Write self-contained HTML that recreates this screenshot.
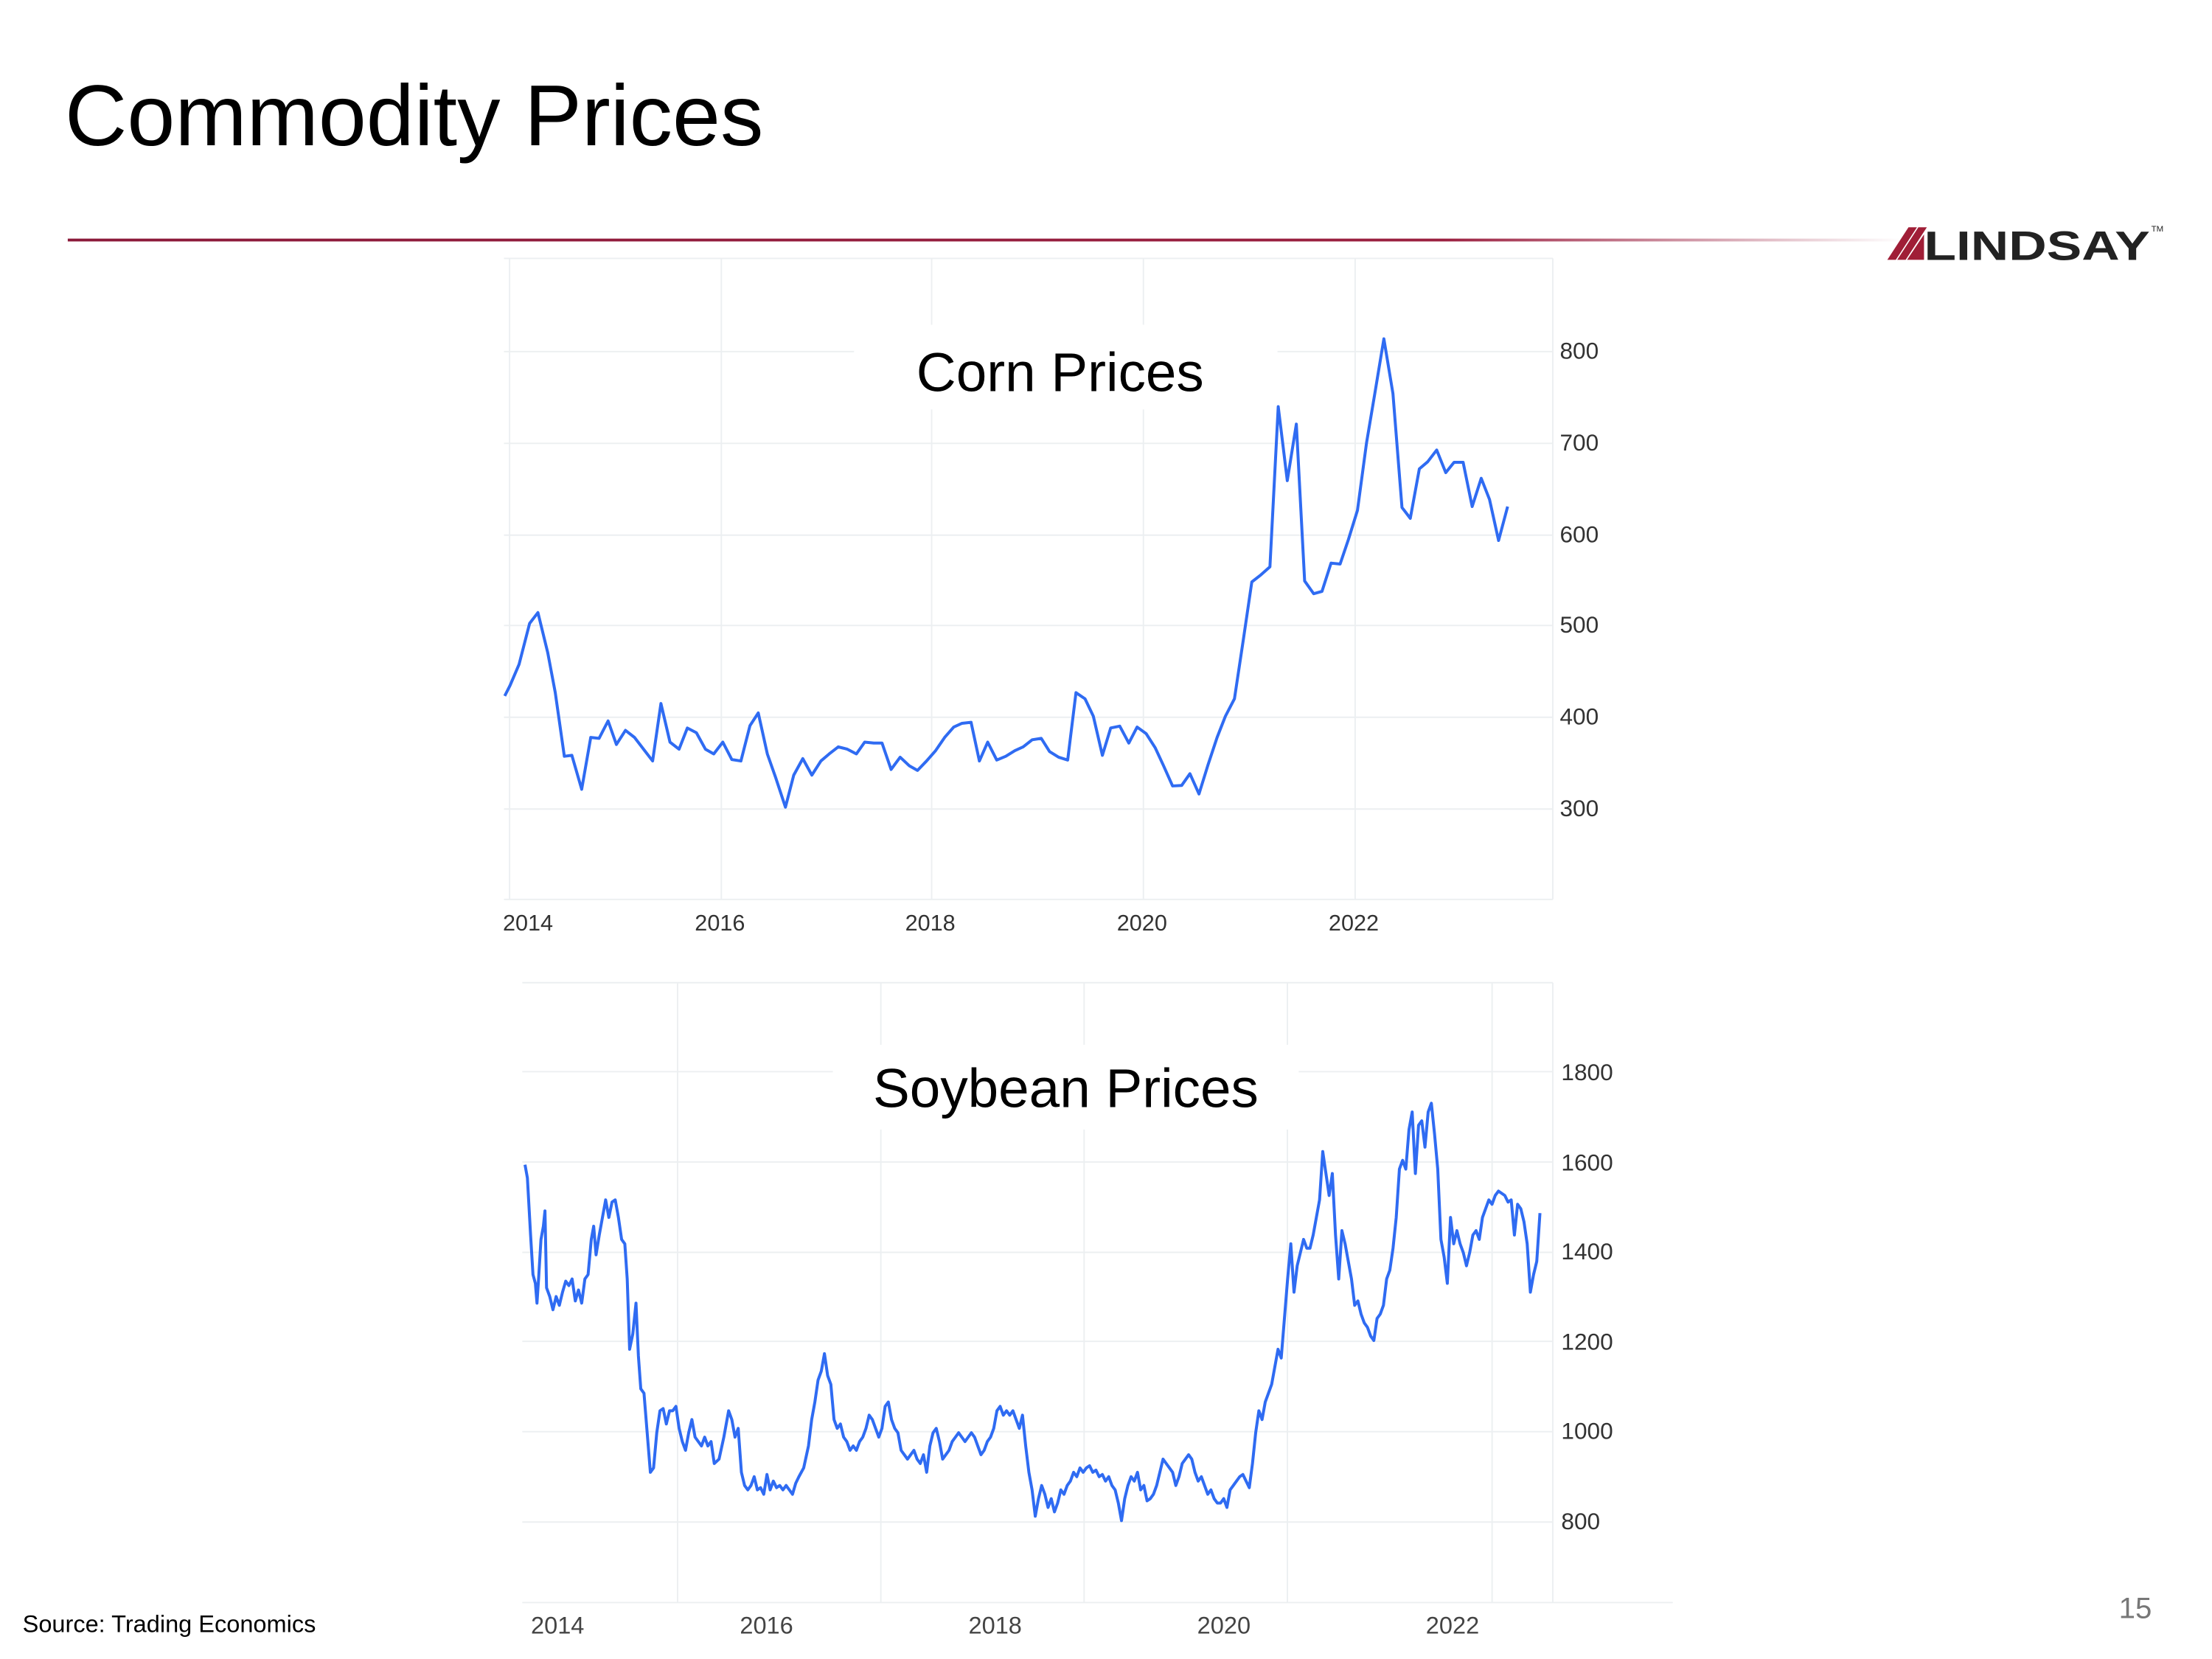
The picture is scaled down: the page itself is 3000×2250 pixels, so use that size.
<!DOCTYPE html>
<html><head><meta charset="utf-8"><style>
html,body{margin:0;padding:0;background:#fff;}
svg{display:block;}
</style></head><body>
<svg width="3000" height="2250" viewBox="0 0 1567 1175" preserveAspectRatio="none" xmlns="http://www.w3.org/2000/svg" font-family="Liberation Sans, Arial, sans-serif">
<defs>
<linearGradient id="rl" x1="0" x2="1" y1="0" y2="0">
<stop offset="0" stop-color="#8b1a3a"/><stop offset="0.75" stop-color="#9b2040"/><stop offset="1" stop-color="#9b2040" stop-opacity="0"/>
</linearGradient>
</defs>
<text x="46" y="103" font-size="61" fill="#000">Commodity Prices</text>
<rect x="48" y="169" width="1300" height="2" fill="url(#rl)"/>
<g>
<polygon points="1337,184 1352,161 1358,161 1343,184" fill="#a01e37"/>
<polygon points="1344,184 1359,161 1365,161 1350,184" fill="#a01e37"/>
<polygon points="1351,184 1363,166 1363,184" fill="#a01e37"/>
<text x="1363" y="184" font-size="29" font-weight="bold" fill="#222" textLength="160" lengthAdjust="spacingAndGlyphs">LINDSAY</text>
<text x="1524" y="164" font-size="6" fill="#222">TM</text>
</g>

<g stroke="#eceff1" stroke-width="1" fill="none">
<line x1="357" y1="183" x2="1100" y2="183"/>
<line x1="357" y1="637" x2="1100" y2="637"/>
<line x1="1100" y1="183" x2="1100" y2="637"/>
<line x1="361" y1="183" x2="361" y2="637"/>
<line x1="511" y1="183" x2="511" y2="637"/>
<line x1="660" y1="183" x2="660" y2="637"/>
<line x1="810" y1="183" x2="810" y2="637"/>
<line x1="960" y1="183" x2="960" y2="637"/>
<line x1="357" y1="249" x2="1100" y2="249"/>
<line x1="357" y1="314" x2="1100" y2="314"/>
<line x1="357" y1="379" x2="1100" y2="379"/>
<line x1="357" y1="443" x2="1100" y2="443"/>
<line x1="357" y1="508" x2="1100" y2="508"/>
<line x1="357" y1="573" x2="1100" y2="573"/>
</g>
<rect x="605" y="230" width="300" height="60" fill="#fff"/>
<g font-size="16.5" fill="#333">
<text x="1105" y="254">800</text><text x="1105" y="319">700</text><text x="1105" y="384">600</text>
<text x="1105" y="448">500</text><text x="1105" y="513">400</text><text x="1105" y="578">300</text>
</g>
<g font-size="16" fill="#333" text-anchor="middle">
<text x="374" y="659">2014</text><text x="510" y="659">2016</text><text x="659" y="659">2018</text><text x="809" y="659">2020</text><text x="959" y="659">2022</text>
</g>
<text x="751" y="277" font-size="39" fill="#000" text-anchor="middle">Corn Prices</text>
<g transform="translate(339.9,171.9) scale(0.5346,0.3337)">
<polyline fill="none" stroke="#2f6bf2" stroke-width="4" vector-effect="non-scaling-stroke" stroke-linejoin="round" points="33,962 40,940 52,895 66,808 77,785 90,870 100,955 112,1090 122,1088 135,1160 147,1050 158,1052 170,1015 181,1065 193,1035 205,1050 217,1075 229,1100 240,978 252,1060 264,1075 275,1030 287,1040 299,1075 310,1085 322,1060 334,1097 346,1100 358,1025 369,998 381,1085 392,1135 405,1198 416,1130 428,1095 440,1130 452,1100 463,1085 475,1070 487,1075 499,1085 510,1060 522,1062 533,1062 545,1118 557,1092 569,1110 580,1120 592,1100 604,1078 616,1050 628,1028 639,1020 651,1018 662,1100 673,1060 685,1098 697,1090 709,1078 720,1070 732,1055 744,1052 755,1080 767,1092 779,1098 790,955 802,968 813,1005 825,1088 836,1030 848,1026 860,1062 871,1028 883,1042 895,1072 906,1110 918,1153 930,1152 941,1127 953,1170 965,1108 977,1050 988,1005 1000,968 1012,840 1023,720 1035,705 1047,688 1058,348 1070,505 1082,385 1093,718 1105,745 1116,740 1128,680 1140,682 1151,630 1163,568 1175,425 1186,320 1198,204 1210,320 1222,562 1233,585 1245,480 1256,465 1268,440 1280,488 1291,466 1303,466 1315,560 1327,500 1338,545 1350,632 1362,560"/>
</g>

<g stroke="#eceff1" stroke-width="1" fill="none">
<line x1="370" y1="696" x2="1100" y2="696"/>
<line x1="370" y1="1135" x2="1185" y2="1135"/>
<line x1="1100" y1="696" x2="1100" y2="1135"/>
<line x1="480" y1="696" x2="480" y2="1135"/>
<line x1="624" y1="696" x2="624" y2="1135"/>
<line x1="768" y1="696" x2="768" y2="1135"/>
<line x1="912" y1="696" x2="912" y2="1135"/>
<line x1="1057" y1="696" x2="1057" y2="1135"/>
<line x1="370" y1="759" x2="1100" y2="759"/>
<line x1="370" y1="823" x2="1100" y2="823"/>
<line x1="370" y1="887" x2="1100" y2="887"/>
<line x1="370" y1="950" x2="1100" y2="950"/>
<line x1="370" y1="1014" x2="1100" y2="1014"/>
<line x1="370" y1="1078" x2="1100" y2="1078"/>
</g>
<rect x="590" y="740" width="330" height="60" fill="#fff"/>
<g font-size="16.5" fill="#333">
<text x="1106" y="765">1800</text><text x="1106" y="829">1600</text><text x="1106" y="892">1400</text>
<text x="1106" y="956">1200</text><text x="1106" y="1019">1000</text><text x="1106" y="1083">800</text>
</g>
<g font-size="17" fill="#444" text-anchor="middle">
<text x="395" y="1157">2014</text><text x="543" y="1157">2016</text><text x="705" y="1157">2018</text><text x="867" y="1157">2020</text><text x="1029" y="1157">2022</text>
</g>
<text x="755" y="784" font-size="39" fill="#000" text-anchor="middle">Soybean Prices</text>
<g transform="translate(340.8,688.0) scale(0.5657,0.3112)">
<polyline fill="none" stroke="#2f6bf2" stroke-width="4" vector-effect="non-scaling-stroke" stroke-linejoin="round" points="55,440 58,470 62,600 65,690 68,710 70,755 72,700 75,610 78,580 80,545 82,720 86,740 90,770 94,740 98,760 102,730 106,705 110,715 114,700 118,750 122,725 126,755 130,700 134,690 138,610 141,580 144,645 148,600 152,560 156,520 160,560 164,525 168,520 172,560 176,610 180,620 183,700 186,860 190,825 194,755 197,875 200,950 204,960 208,1050 212,1140 216,1130 220,1050 224,1000 228,995 232,1030 236,1000 240,1000 244,990 248,1040 252,1070 256,1090 260,1050 264,1020 268,1060 272,1070 276,1080 280,1060 284,1080 288,1070 292,1120 298,1110 304,1060 310,1000 314,1020 318,1060 322,1040 326,1140 330,1170 334,1180 338,1170 342,1150 346,1180 350,1175 354,1190 358,1145 362,1180 366,1160 370,1175 374,1170 378,1180 382,1170 386,1180 390,1190 394,1165 398,1150 404,1130 410,1080 414,1020 418,980 422,930 426,910 430,870 434,920 438,940 442,1020 446,1040 450,1030 454,1060 458,1070 462,1090 466,1080 470,1090 474,1070 478,1060 482,1040 486,1010 490,1020 494,1040 498,1060 502,1040 506,990 510,980 514,1020 518,1040 522,1050 526,1090 530,1100 534,1110 538,1100 542,1090 546,1110 550,1120 554,1100 558,1140 562,1080 566,1050 570,1040 574,1070 578,1110 582,1100 586,1090 590,1070 594,1060 598,1050 602,1060 606,1070 610,1060 614,1050 618,1060 622,1080 626,1100 630,1090 634,1070 638,1060 642,1040 646,1000 650,990 654,1010 658,1000 662,1010 666,1000 670,1020 674,1040 678,1010 682,1080 686,1140 690,1180 694,1240 698,1200 702,1170 706,1190 710,1220 714,1200 718,1230 722,1210 726,1180 730,1190 734,1170 738,1160 742,1140 746,1150 750,1130 754,1140 758,1130 762,1125 766,1140 770,1135 774,1150 778,1145 782,1160 786,1150 790,1170 794,1180 798,1210 802,1250 806,1200 810,1170 814,1150 818,1160 822,1140 826,1180 830,1170 834,1205 838,1200 842,1190 846,1170 850,1140 854,1110 858,1120 862,1130 866,1140 870,1170 874,1150 878,1120 882,1110 886,1100 890,1110 894,1140 898,1160 902,1150 906,1170 910,1190 914,1180 918,1200 922,1210 926,1210 930,1200 934,1220 938,1180 942,1170 946,1160 950,1150 954,1145 958,1160 962,1175 966,1120 970,1050 974,1000 978,1020 982,980 986,960 990,940 994,900 998,860 1002,880 1006,790 1010,700 1014,620 1018,730 1022,670 1026,640 1030,610 1034,630 1038,630 1042,600 1046,560 1050,520 1054,410 1058,460 1062,510 1066,460 1070,600 1074,700 1078,590 1082,620 1086,660 1090,700 1094,760 1098,750 1102,780 1106,800 1110,810 1114,830 1118,840 1122,790 1126,780 1130,760 1134,700 1138,680 1142,630 1146,560 1150,450 1154,430 1158,450 1162,360 1166,320 1170,460 1174,350 1178,340 1182,400 1186,320 1190,300 1194,370 1198,450 1202,610 1206,650 1210,710 1214,560 1218,620 1222,590 1226,620 1230,640 1234,670 1238,640 1242,600 1246,590 1250,610 1254,560 1258,540 1262,520 1266,530 1270,510 1274,500 1278,505 1282,510 1286,525 1290,520 1294,600 1298,530 1302,540 1306,570 1310,620 1314,730 1318,690 1322,660 1326,550"/>
</g>

<text x="16" y="1156" font-size="17" fill="#000">Source: Trading Economics</text>
<text x="1501" y="1146" font-size="21" fill="#777">15</text>
</svg>
</body></html>
